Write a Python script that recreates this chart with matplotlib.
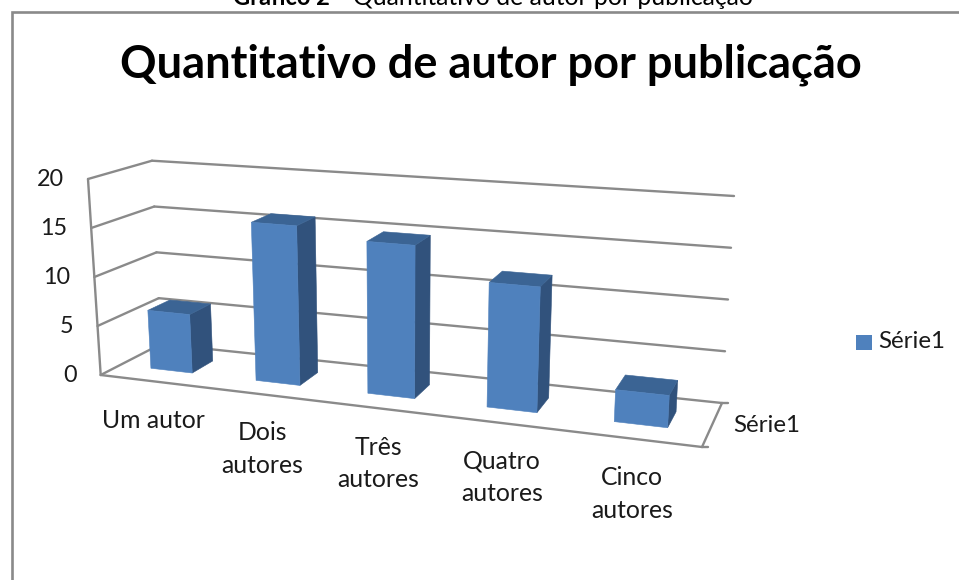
"""
Quantitativo de autor por publicação: 3D column chart with a perspective box.
"""

import numpy as np
import matplotlib
matplotlib.use('Agg')
import matplotlib.pyplot as plt
from matplotlib.patches import Polygon, Rectangle

# === DATA ===
categories = ['Um autor', 'Dois\nautores', 'Três\nautores', 'Quatro\nautores', 'Cinco\nautores']
values = [6, 16, 15, 12, 3]
y_ticks = [0, 5, 10, 15, 20]
series_name = 'Série1'
chart_title = 'Quantitativo de autor por publicação'

# === STYLE ===
FONT = 'Lato'
GRID = '#8A8A8A'
FRONT = '#4F81BD'
SIDE = '#31527C'
TOP = '#3B6494'
INK = '#1A1A1A'
FONT_TICK = 16.8
FONT_LABEL = 17.8
FONT_SERIES = 17.4

plt.rcParams.update({'font.family': FONT})

# Box corners on the canvas (pixels): bottom and top of each vertical edge
CORNERS = {
    'fl': ((100.7, 375.0), (88.0, 179.0)),
    'bl': ((161.0, 344.0), (152.0, 160.7)),
    'br': ((722.0, 403.0), (734.0, 196.0)),
    'fr': ((702.0, 447.0), (715.0, 225.0)),
}
VMAX = 20
PERSP = 0.852   # foreshortening along the category axis
BAR_WIDTH = 0.08
D_FRONT, D_BACK = 0.33, 0.70


def project(t, d, v):
    """Map category position t, depth d (0 front) and value v to canvas pixels."""
    u = PERSP * t / (1 - t + PERSP * t)
    k = v / VMAX
    pts = {}
    for name, (low, high) in CORNERS.items():
        pts[name] = np.array(low) * (1 - k) + np.array(high) * k
    front = pts['fl'] * (1 - u) + pts['fr'] * u
    back = pts['bl'] * (1 - u) + pts['br'] * u
    return front * (1 - d) + back * d


fig = plt.figure(figsize=(9.59, 5.8), dpi=100, facecolor='white')
ax = fig.add_axes([0, 0, 1, 1])
ax.set_xlim(0, 959)
ax.set_ylim(580, 0)
ax.axis('off')


def line(p, q, lw=1.7):
    ax.plot([p[0], q[0]], [p[1], q[1]], color=GRID, lw=lw, solid_capstyle='round', zorder=2)


# Chart frame
ax.plot([11.5, 11.5, 959], [580, 12.3, 12.3], color=GRID, lw=1.9, solid_joinstyle='miter', zorder=1)

# Caption above the frame, cut by the top of the page
ax.text(233, 5, 'Gráfico 2', fontsize=17, fontweight='bold', ha='left', va='baseline', color='black')
ax.text(344, 5, '-', fontsize=17.6, ha='left', va='baseline', color='black')
ax.text(353, 5, 'Quantitativo de autor por publicação', fontsize=17.8, ha='left', va='baseline', color='black')

ax.text(491, 77, chart_title, fontsize=32.5, fontweight='bold', ha='center', va='baseline', color='black')

# Walls and floor
for v in y_ticks:
    line(project(0, 0, v), project(0, 1, v))
    line(project(0, 1, v), project(1, 1, v))
    ax.text(project(0, 0, v)[0] - 24, project(0, 0, v)[1] + 0.5, str(v), fontsize=FONT_TICK, ha='right',
            va='center', color=INK)
line(project(0, 0, 0), project(0, 0, VMAX))
line(project(0, 0, 0), project(1, 0, 0))
line(project(1, 0, 0), project(1, 1, 0))

# Depth-axis tick marks
for d in (0, 1):
    p = project(1, d, 0)
    line(p, p + np.array([6, 0]))

# Columns, left to right
for i, val in enumerate(values):
    tc = (i + 0.5) / len(values)
    t0, t1 = tc - BAR_WIDTH / 2, tc + BAR_WIDTH / 2
    front = [project(t0, D_FRONT, 0), project(t1, D_FRONT, 0), project(t1, D_FRONT, val), project(t0, D_FRONT, val)]
    side = [project(t1, D_FRONT, 0), project(t1, D_BACK, 0), project(t1, D_BACK, val), project(t1, D_FRONT, val)]
    top = [project(t0, D_FRONT, val), project(t1, D_FRONT, val), project(t1, D_BACK, val), project(t0, D_BACK, val)]
    for poly, col in ((side, SIDE), (top, TOP), (front, FRONT)):
        ax.add_patch(Polygon(poly, closed=True, facecolor=col, edgecolor=col, lw=0.4, zorder=3 + i))

# Category labels follow the sloped floor edge
label_x = [153, 262, 378, 502, 632]
label_y = [421, 449, 463.5, 477.5, 494]
for name, x, y in zip(categories, label_x, label_y):
    ax.text(x, y, name, fontsize=FONT_LABEL, ha='center', va='center', color=INK, linespacing=1.5)

ax.text(766.5, 425, series_name, fontsize=FONT_SERIES, ha='center', va='center', color=INK)

# Legend
ax.add_patch(Rectangle((856, 334.5), 16, 15.5, facecolor=FRONT, edgecolor='none'))
ax.text(878, 342, series_name, fontsize=FONT_SERIES, ha='left', va='center', color=INK)

fig.savefig('out.png', dpi=100, facecolor='white')
plt.close(fig)
